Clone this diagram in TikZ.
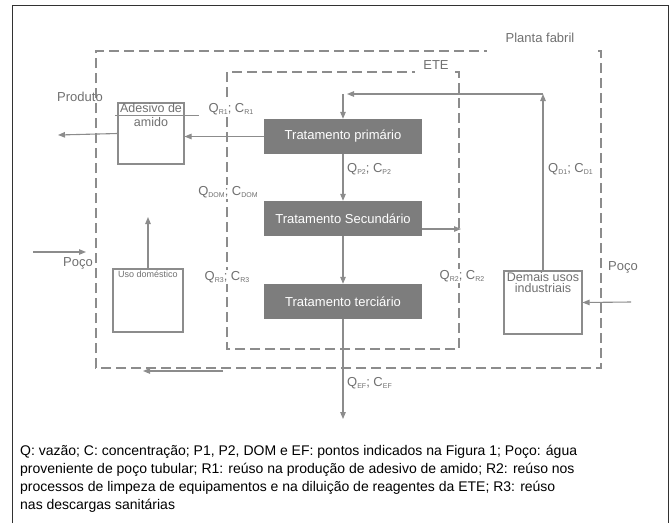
\documentclass[tikz,border=0pt]{standalone}
\usepackage{fontspec}
\setmainfont{Liberation Sans}
\usetikzlibrary{arrows.meta, positioning, calc}
\definecolor{linegray}{RGB}{140,140,140}
\definecolor{textgray}{RGB}{112,112,112}
\definecolor{boxgray}{RGB}{125,125,125}
\definecolor{framegray}{RGB}{50,50,50}
\newcommand{\lowidx}[1]{\raisebox{-2.5pt}{\fontsize{7}{8}\selectfont #1}}

\begin{document}
\begin{tikzpicture}[x=1pt, y=-1pt,
  flow/.style={draw=linegray, line width=1.1pt, -{Triangle[length=7pt, width=5.5pt]}},
  limit/.style={draw=linegray, line width=1.3pt, dash pattern=on 10pt off 5pt},
  stage/.style={fill=boxgray, text=white, minimum width=158pt, minimum height=35pt, inner sep=0pt, font=\fontsize{13}{15}\selectfont},
  usebox/.style={draw=linegray, line width=1.1pt, fill=white, inner sep=0pt},
  tag/.style={text=textgray, font=\fontsize{13}{15}\selectfont, inner sep=1pt},
  flowtag/.style={tag, fill=white},
]
  \useasboundingbox (0,0) rectangle (671,523);

  % Outer frame
  \draw[framegray, line width=1pt] (12,523) -- (12,5) -- (668,5) -- (668,523);

  % Planta fabril and ETE limits
  \draw[limit] (598,51) -- (601,51) -- (601,368) -- (96,368) -- (96,51) -- (487,51);
  \node[tag] (planta) at (540,38) {Planta fabril};
  \draw[limit] (455,72) -- (459,72) -- (459,349) -- (227,349) -- (227,72) -- (415,72);
  \node[tag] (ete) at (436,65) {ETE};

  % Treatment stages
  \node[stage] (prim) at (343,136.5) {Tratamento primário};
  \node[stage] (sec) at (343,218.5) {Tratamento Secundário};
  \node[stage] (ter) at (343,301.5) {Tratamento terciário};

  % Uses
  \node[usebox, minimum width=66pt, minimum height=61pt,
    label={[anchor=north, text=textgray, align=center, inner sep=1pt, font=\fontsize{12.5}{14}\selectfont]north:{Adesivo de\\amido}}] (adesivo) at (151,133.5) {};
  \draw[linegray, line width=1pt] ($(adesivo.north west)+(-2,13)$) -- ($(adesivo.north east)+(14,13)$);
  \node[usebox, minimum width=70pt, minimum height=63pt,
    label={[anchor=north, text=textgray, inner sep=2pt, font=\fontsize{9}{10}\selectfont]north:{Uso doméstico}}] (uso) at (148,300.5) {};
  \node[usebox, minimum width=78pt, minimum height=63pt,
    label={[anchor=north, text=textgray, align=center, inner sep=2pt, font=\fontsize{12.5}{11}\selectfont]north:{Demais usos\\industriais}}] (demais) at (543,302.5) {};

  % Free ends
  \coordinate (produtoTip) at (58,135);
  \coordinate (pocoLa) at (33,252);
  \coordinate (pocoLb) at (86,252);
  \coordinate (usoTip) at (148,217);
  \coordinate (pocoRa) at (631,302);
  \coordinate (retR) at (543,94);
  \coordinate (retTop) at (343,94);
  \coordinate (secOut) at (461,229);
  \coordinate (efTip) at (343,419);
  \coordinate (backA) at (223,371);
  \coordinate (backB) at (143,371);

  % Flows
  \draw[flow] (demais.north) -- (retR);
  \draw[flow] (retR) -- ($(retTop)+(4,0)$);
  \draw[flow] (retTop) -- (prim.north);
  \draw[flow] (prim.south) -- (sec.north);
  \draw[flow] (sec.south) -- (ter.north);
  \draw[flow] (ter.south) -- (efTip);
  \draw[flow] (prim.west) -- (prim.west -| adesivo.east);
  \draw[flow] (adesivo.west) -- (produtoTip);
  \draw[flow] (sec.east |- secOut) -- (secOut);
  \draw[flow] (uso.north) -- (usoTip);
  \draw[flow] (pocoLa) -- (pocoLb);
  \draw[flow] (pocoRa) -- (demais.east);
  \draw[flow] (backA) -- (backB);

  % Labels
  \node[tag] (produto) at (80,97) {Produto};
  \node[tag] (pocoL) at (78,263) {Poço};
  \node[tag] (pocoR) at (623,267) {Poço};
  \node[flowtag] (qR1) at (231,109) {Q\lowidx{R1}; C\lowidx{R1}};
  \node[flowtag] (qDOM) at (228,192) {Q\lowidx{DOM}; C\lowidx{DOM}};
  \node[flowtag] (qR3) at (227,277) {Q\lowidx{R3}; C\lowidx{R3}};
  \node[flowtag] (qR2) at (462,276) {Q\lowidx{R2}; C\lowidx{R2}};
  \node[tag, anchor=west] (qP2) at (346,169) {Q\lowidx{P2}; C\lowidx{P2}};
  \node[tag, anchor=west] (qD1) at (547,169) {Q\lowidx{D1}; C\lowidx{D1}};
  \node[tag, anchor=west] (qEF) at (346,383) {Q\lowidx{EF}; C\lowidx{EF}};

  % Caption
  \node[anchor=north west, align=left, inner sep=0pt, font=\fontsize{14}{18}\selectfont] (caption) at (20,445) {%
    Q: vazão; C: concentração; P1, P2, DOM e EF: pontos indicados na Figura 1; Poço: água\\
    proveniente de poço tubular; R1: reúso na produção de adesivo de amido; R2: reúso nos\\
    processos de limpeza de equipamentos e na diluição de reagentes da ETE; R3: reúso\\
    nas descargas sanitárias};
\end{tikzpicture}
\end{document}
